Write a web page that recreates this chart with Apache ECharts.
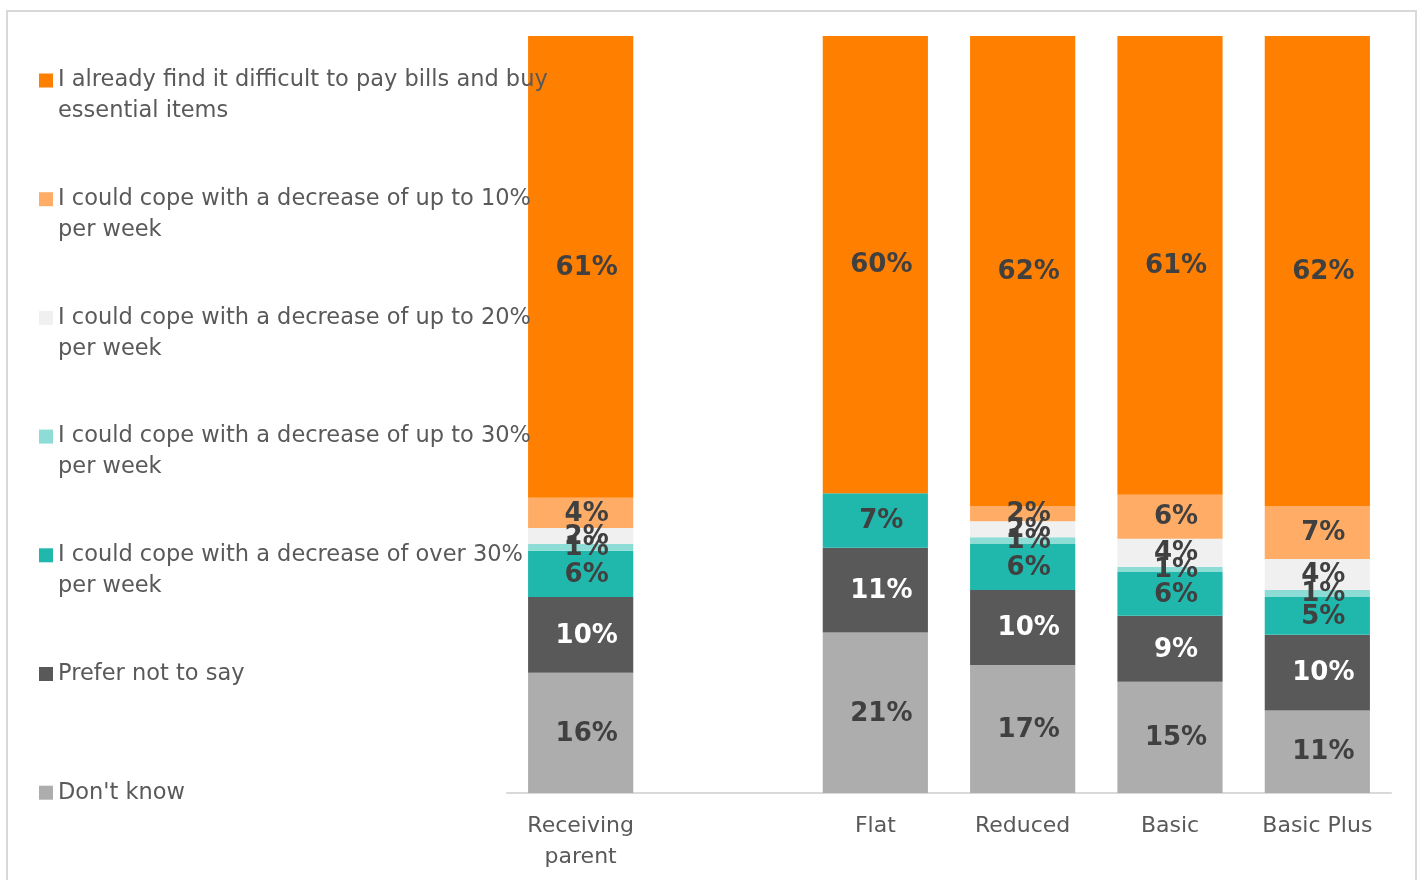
<!DOCTYPE html>
<html>
<head>
<meta charset="utf-8">
<title>Coping with a decrease in weekly income</title>
<script src="https://cdn.jsdelivr.net/npm/echarts@6/dist/echarts.min.js"></script>
<style>
  html, body { margin: 0; padding: 0; background: #ffffff; }
  #chart { width: 1419px; height: 880px; }
</style>
</head>
<body>
<div id="chart"></div>
<script>
// Groups shown along the x axis (the blank slot separates the first bar from the rest)
const categories = ['Receiving\nparent', '', 'Flat', 'Reduced', 'Basic', 'Basic Plus'];

// Response names, bottom of the stack to top
const seriesNames = [
  "Don't know",
  'Prefer not to say',
  'I could cope with a decrease of over 30% per week',
  'I could cope with a decrease of up to 30% per week',
  'I could cope with a decrease of up to 20% per week',
  'I could cope with a decrease of up to 10% per week',
  'I already find it difficult to pay bills and buy essential items'
];

// Wrapped legend text, same order as seriesNames
const legendLabels = [
  "Don't know",
  'Prefer not to say',
  'I could cope with a decrease of over 30%\nper week',
  'I could cope with a decrease of up to 30%\nper week',
  'I could cope with a decrease of up to 20%\nper week',
  'I could cope with a decrease of up to 10%\nper week',
  'I already find it difficult to pay bills and buy\nessential items'
];

// Share of respondents (%) per group
const dontKnow   = [15.9, null, 21.2, 16.9, 14.7, 10.9];
const preferNot  = [10.0, null, 11.2,  9.9,  8.7, 10.0];
const over30     = [ 6.1, null,  7.2,  6.1,  5.8,  5.0];
const upTo30     = [ 0.9, null,  0,    0.9,  0.7,  0.9];
const upTo20     = [ 2.1, null,  0,    2.1,  3.7,  4.1];
const upTo10     = [ 4.0, null,  0,    2.0,  5.8,  7.0];
const difficult  = [61.0, null, 60.4, 62.1, 60.6, 62.1];

const seriesValues = [dontKnow, preferNot, over30, upTo30, upTo20, upTo10, difficult];
const seriesColors = ['#ADADAD', '#595959', '#20B8AC', '#8DDCD5', '#F0F0F0', '#FFAD66', '#FF7F00'];
const labelColors  = ['#404040', '#FFFFFF', '#404040', '#404040', '#404040', '#404040', '#404040'];

const FONT = 'DejaVu Sans';

const chart = echarts.init(document.getElementById('chart'), null, { renderer: 'canvas' });

const series = seriesNames.map((name, i) => ({
  name: name,
  type: 'bar',
  stack: 'total',
  barCategoryGap: '28.6%',
  itemStyle: { color: seriesColors[i] },
  emphasis: { disabled: true },
  label: {
    show: true,
    position: 'inside',
    offset: [6, 1],
    color: labelColors[i],
    fontFamily: FONT,
    fontWeight: 'bold',
    fontSize: 26,
    formatter: p => (p.value ? Math.round(p.value) + '%' : '')
  },
  data: seriesValues[i]
}));

const legendOrder = seriesNames.slice().reverse();

chart.setOption({
  animation: false,
  backgroundColor: '#ffffff',
  graphic: [{
    type: 'rect',
    z: 0,
    shape: { x: 7, y: 11, width: 1409, height: 880 },
    style: { fill: 'none', stroke: '#D9D9D9', lineWidth: 2 }
  }],
  legend: {
    orient: 'vertical',
    left: 34,
    top: 29,
    itemWidth: 14,
    itemHeight: 14,
    itemGap: 25.7,
    icon: 'rect',
    selectedMode: false,
    data: legendOrder,
    // three text rows per entry: a blank row above keeps the first text row level with the swatch
    formatter: name => {
      const txt = legendLabels[seriesNames.indexOf(name)];
      return ' \n' + (txt.indexOf('\n') >= 0 ? txt : txt + '\n ');
    },
    textStyle: {
      fontFamily: FONT,
      fontSize: 22.5,
      color: '#595959',
      lineHeight: 31
    }
  },
  grid: { left: 507, right: 28, top: 36, bottom: 87, containLabel: false },
  xAxis: {
    type: 'category',
    data: categories,
    axisLine: { lineStyle: { color: '#D9D9D9', width: 2 } },
    axisTick: { show: false },
    axisLabel: {
      interval: 0,
      margin: 18,
      color: '#595959',
      fontFamily: FONT,
      fontSize: 22,
      lineHeight: 31
    }
  },
  yAxis: {
    type: 'value',
    min: 0,
    max: 100,
    show: false,
    splitLine: { show: false }
  },
  series: series
});
</script>
</body>
</html>
